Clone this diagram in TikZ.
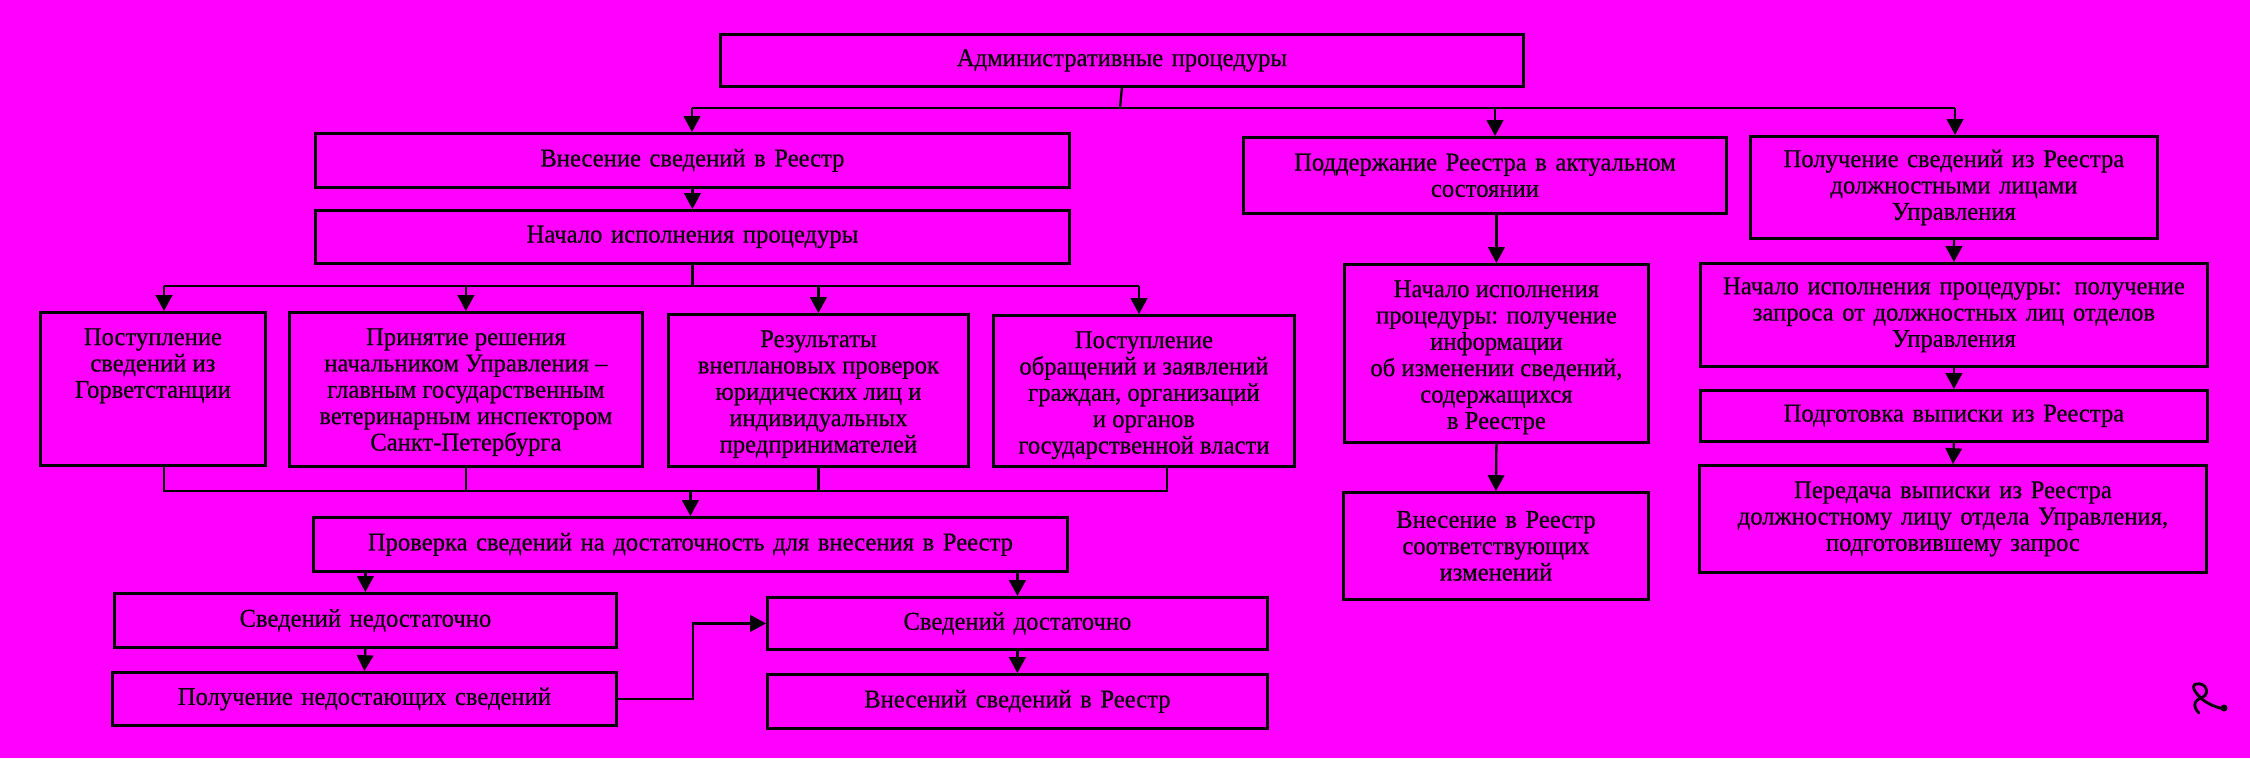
\documentclass[tikz,border=0pt]{standalone}
\usepackage{fontspec}
\setmainfont{Liberation Serif}[FakeStretch=0.96,FakeBold=0.4]
\usetikzlibrary{arrows.meta,calc}
\definecolor{bg}{RGB}{255,0,255}
\newcommand\tbx[3]{\parbox[c][#2][t]{#1}{\centering\rule{0pt}{9.3pt}#3\par}}
\begin{document}
\begin{tikzpicture}[x=0.1mm,y=-0.1mm,
  box/.style={draw=black,line width=0.8pt,inner sep=0pt,anchor=north west,
    font=\fontsize{7.3}{7.5}\selectfont,text=black},
  cbox/.style={box,align=center},
  conn/.style={draw=black,line width=0.65pt},
  arr/.style={conn,-{Triangle[length=4.5pt,width=4.7pt]}}]
\path[use as bounding box,fill=bg] (0,0) rectangle (2250,758);

% top level
\node[cbox,text width=80.3mm,minimum height=5.2mm] (top) at (719,33) {Административные процедуры};
\node[cbox,text width=75.4mm,minimum height=5.4mm] (vn) at (314,132) {Внесение сведений в Реестр};
\node[cbox,text width=75.4mm,minimum height=5.3mm] (nach) at (314,209) {Начало исполнения процедуры};
\node[cbox,text width=48.3mm,minimum height=7.6mm] (pod) at (1242,136) {Поддержание Реестра в актуальном\\состоянии};
\node[cbox,text width=40.7mm,minimum height=10.2mm] (polr) at (1749,135) {Получение сведений из Реестра\\должностными лицами\\Управления};

% sources row
\node[box] (b1) at (39,311) {\tbx{22.5mm}{15.3mm}{Поступление\\сведений из\\Горветстанции}};
\node[box] (b2) at (288,311) {\tbx{35.3mm}{15.4mm}{Принятие решения\\начальником Управления –\\главным государственным\\ветеринарным инспектором\\Санкт-Петербурга}};
\node[box] (b3) at (667,313) {\tbx{30.0mm}{15.2mm}{Результаты\\внеплановых проверок\\юридических лиц и\\индивидуальных\\предпринимателей}};
\node[box] (b4) at (992,314) {\tbx{30.1mm}{15.1mm}{Поступление\\обращений и заявлений\\граждан, организаций\\и органов\\государственной власти}};

% check
\node[cbox,text width=75.4mm,minimum height=5.4mm] (prov) at (312,516) {Проверка сведений на достаточность для внесения в Реестр};
\node[cbox,text width=50.2mm,minimum height=5.4mm] (ned) at (113,592) {Сведений недостаточно};
\node[cbox,text width=50.4mm,minimum height=5.3mm] (pol) at (111,671) {Получение недостающих сведений};
\node[cbox,text width=50.0mm,minimum height=5.2mm] (dost) at (766,596) {Сведений достаточно};
\node[cbox,text width=50.0mm,minimum height=5.4mm] (vns) at (766,673) {Внесений сведений в Реестр};

% middle column
\node[box] (nach2) at (1343,263) {\tbx{30.4mm}{17.8mm}{Начало исполнения\\процедуры: получение\\информации\\об изменении сведений,\\содержащихся\\в Реестре}};
\node[cbox,text width=30.5mm,minimum height=10.7mm] (vnr) at (1342,491) {Внесение в Реестр\\соответствующих\\изменений};

% right column
\node[cbox,text width=50.7mm,minimum height=10.3mm] (nach3) at (1699,262) {Начало исполнения процедуры: получение\\запроса от должностных лиц отделов\\Управления};
\node[cbox,text width=50.7mm,minimum height=5.1mm] (podg) at (1699,389) {Подготовка выписки из Реестра};
\node[cbox,text width=50.7mm,minimum height=10.7mm] (per) at (1698,464) {Передача выписки из Реестра\\должностному лицу отдела Управления,\\подготовившему запрос};

% top bus
\coordinate (j1) at (1120,108);
\coordinate (tl) at (692,108);
\coordinate (tm) at (1495,108);
\coordinate (tr) at (1955,108);
\draw[conn] (top.south) -- (j1);
\draw[conn] (tl) -- (tr);
\draw[arr] (tl) -- (tl |- vn.north);
\draw[arr] (tm) -- (tm |- pod.north);
\draw[arr] (tr) -- (tr |- polr.north);

\draw[arr] (vn.south) -- (nach.north);

% second bus
\coordinate (bl) at (164,286);
\coordinate (br) at (1139,286);
\draw[conn] (nach.south) -- (nach.south |- bl);
\draw[conn] (bl) -- (br);
\draw[arr] (bl) -- (bl |- b1.north);
\draw[arr] (b2.north |- bl) -- (b2.north);
\draw[arr] (b3.north |- bl) -- (b3.north);
\draw[arr] (br) -- (br |- b4.north);

% third bus
\coordinate (cl) at (164,491);
\coordinate (cr) at (1167,491);
\draw[conn] (cl |- b1.south) -- (cl) -- (cr) -- (cr |- b4.south);
\draw[conn] (b2.south) -- (b2.south |- cl);
\draw[conn] (b3.south) -- (b3.south |- cl);
\draw[arr] (prov.north |- cl) -- (prov.north);

\draw[arr] (prov.south -| ned.north) -- (ned.north);
\draw[arr] (prov.south -| dost.north) -- (dost.north);
\draw[arr] (ned.south) -- (pol.north);
\draw[arr] (dost.south) -- (vns.north);
\draw[arr] (pol.east) -- ++(75,0) |- (dost.west);

% right connectors
\draw[arr] (nach2.north |- pod.south) -- (nach2.north);
\draw[arr] (nach2.south) -- (vnr.north);
\draw[arr] (polr.south) -- (nach3.north);
\draw[arr] (nach3.south) -- (podg.north);
\draw[arr] (podg.south) -- (per.north);

% signature mark
\draw[black,line width=0.8pt,line cap=round] (2199,713) .. controls (2192,706) and (2194,700) .. (2203,697) .. controls (2210,693) and (2206,682) .. (2196,684) .. controls (2190,686) and (2196,694) .. (2203,700) .. controls (2210,705) and (2218,708) .. (2225,709);
\fill[black] (2224,708) circle (3.5);
\end{tikzpicture}
\end{document}
